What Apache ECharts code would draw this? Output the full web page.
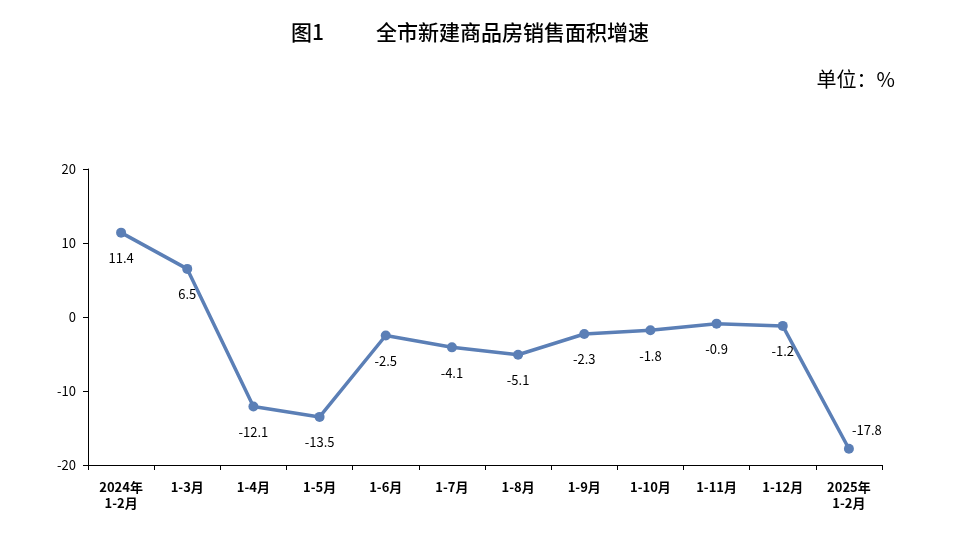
<!DOCTYPE html><html><head><meta charset="utf-8"><script src="https://cdn.jsdelivr.net/npm/echarts@6/dist/echarts.min.js"></script></head><body style="margin:0"><div id="c" style="width:960px;height:536px"></div><script>
const categories=['2024年\n1-2月','1-3月','1-4月','1-5月','1-6月','1-7月','1-8月','1-9月','1-10月','1-11月','1-12月','2025年\n1-2月'];
const values=[11.4,6.5,-12.1,-13.5,-2.5,-4.1,-5.1,-2.3,-1.8,-0.9,-1.2,-17.8];
const ch=echarts.init(document.getElementById('c'));
const F='"Noto Sans CJK SC","Noto Sans",sans-serif';
ch.setOption({
backgroundColor:'#fff',
title:[{text:'图1           全市新建商品房销售面积增速',left:465,textAlign:'center',top:17,textStyle:{fontFamily:F,fontSize:21,fontWeight:500,color:'#000'}},
{text:'单位：%',right:60,top:64,textStyle:{fontFamily:F,fontSize:20,fontWeight:'normal',color:'#000'}}],
grid:{left:88,right:78,top:169,bottom:71},
xAxis:[{type:'category',data:categories,axisLine:{show:false},axisTick:{show:false},axisLabel:{fontFamily:F,fontSize:13,color:'#000',fontWeight:'bold',lineHeight:16,margin:14}},
{type:'category',data:categories,position:'bottom',axisLine:{onZero:true,lineStyle:{color:'#000',width:1}},axisTick:{show:true,length:5,lineStyle:{color:'#000'}},axisLabel:{show:false}}],
yAxis:{type:'value',min:-20,max:20,interval:10,axisLine:{show:true,lineStyle:{color:'#000'}},axisTick:{show:true,length:5,lineStyle:{color:'#000'}},splitLine:{show:false},axisLabel:{fontFamily:F,fontSize:13,color:'#000',margin:12}},
series:[{type:'line',data:values,xAxisIndex:0,symbol:'circle',symbolSize:10,lineStyle:{color:'#5b7fb6',width:3.5},itemStyle:{color:'#5b7fb6'},
label:{show:true,position:'bottom',distance:14,fontFamily:F,fontSize:13,color:'#000'},
labelLayout:function(p){return p.dataIndex===11?{dx:18,dy:-44}:{}}}]
});
</script></body></html>
